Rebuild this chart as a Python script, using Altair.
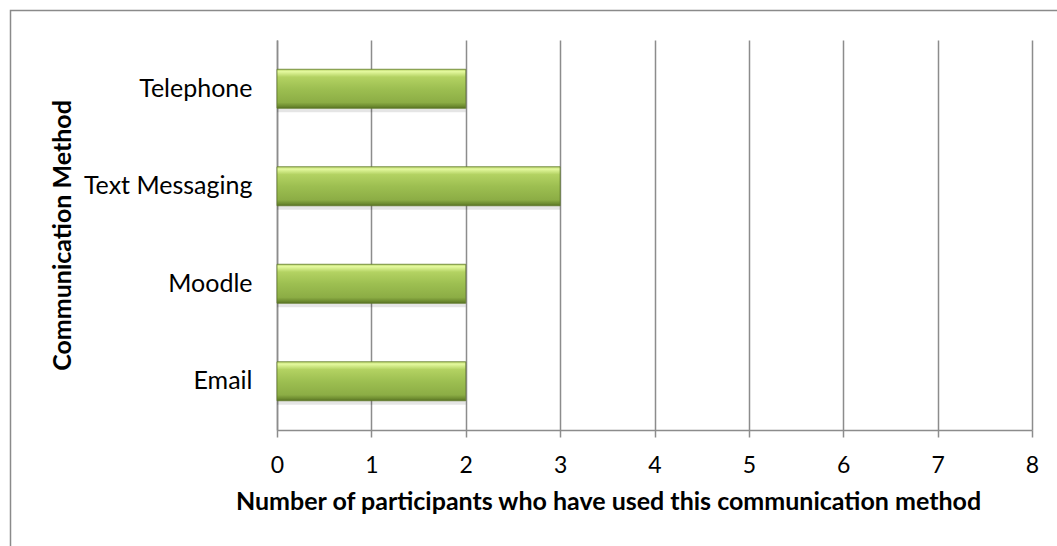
import altair as alt
import pandas as pd

methods = ["Telephone", "Text Messaging", "Moodle", "Email"]
counts = [2, 3, 2, 2]
x_ticks = [0, 1, 2, 3, 4, 5, 6, 7, 8]

df = pd.DataFrame({"method": methods, "count": counts})

FONT = "Lato"
GRID = "#8c8c8c"

bar_gradient = alt.Gradient(
    gradient="linear",
    x1=0, x2=0, y1=0, y2=1,
    stops=[
        alt.GradientStop(offset=0.0, color="#b9d46a"),
        alt.GradientStop(offset=0.06, color="#e4f99e"),
        alt.GradientStop(offset=0.2, color="#b3d262"),
        alt.GradientStop(offset=0.5, color="#9dbf51"),
        alt.GradientStop(offset=0.85, color="#8cad45"),
        alt.GradientStop(offset=0.95, color="#6c8a2f"),
        alt.GradientStop(offset=1.0, color="#566f22"),
    ],
)

y_enc = alt.Y(
    "method:N",
    sort=methods,
    scale=alt.Scale(paddingInner=0.6, paddingOuter=0.3),
    axis=alt.Axis(
        title="Communication Method",
        titleFont=FONT, titleFontSize=25, titleFontWeight="bold", titleColor="#000000",
        titleX=-207, titleY=195, titleAlign="center", titleBaseline="alphabetic", titleAngle=270,
        labelFont=FONT, labelFontSize=25, labelColor="#000000", labelPadding=25,
        ticks=False, domain=True, domainColor=GRID, domainWidth=1.5, grid=False,
    ),
)

x_enc = alt.X(
    "count:Q",
    scale=alt.Scale(domain=[0, 8], nice=False),
    axis=alt.Axis(
        values=x_ticks,
        title="Number of participants who have used this communication method",
        titleFont=FONT, titleFontSize=25, titleFontWeight="bold", titleColor="#000000",
        titleX=331, titleY=79, titleAlign="center", titleBaseline="alphabetic",
        labelFont=FONT, labelFontSize=23, labelColor="#000000", labelPadding=17,
        labelFlush=False,
        tickSize=7, tickColor=GRID, tickWidth=1.5,
        domainColor=GRID, domainWidth=1.5,
        grid=True, gridColor=GRID, gridWidth=1.5,
    ),
)

shadow = alt.Chart(df).mark_bar(color="#000000", opacity=0.10, yOffset=4).encode(
    x=x_enc, y=y_enc
)

bars = alt.Chart(df).mark_bar(
    fill=bar_gradient, stroke="#5f7a28", strokeWidth=0.8
).encode(x=x_enc, y=y_enc)

frame = alt.Chart(alt.Data(values=[{"f": 1}])).mark_rect(
    fill="transparent", stroke="#8a8a8a", strokeWidth=1.5
).encode(
    x=alt.value(-266.5), x2=alt.value(800),
    y=alt.value(-29.5), y2=alt.value(540),
)

chart = alt.layer(frame, shadow, bars).properties(
    width=755,
    height=390,
    autosize=alt.AutoSizeParams(type="none"),
    padding={"left": 277, "top": 40, "right": 25, "bottom": 116},
    background="#ffffff",
).configure_view(stroke=None)

chart.save("out.html", embed_options={"renderer": "svg", "actions": False})
